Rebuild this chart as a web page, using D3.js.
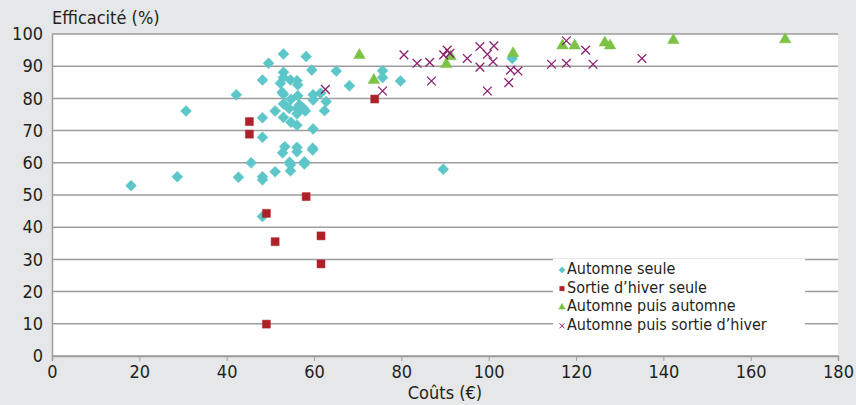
<!DOCTYPE html>
<meta charset="utf-8">
<script src="https://d3js.org/d3.v7.min.js"></script>
<style>
  body { margin: 0; background: #e6e7e8; }
  text { font-family: "DejaVu Sans Condensed", "Liberation Sans Narrow", "Open Sans", sans-serif; fill: #231f20; }
</style>
<body>
<div id="chart"></div>
<script>
// series : [coût, efficacité]
var automneSeule = [
  [18.1,52.9],[28.7,55.7],[30.7,76.1],[42.2,81.1],[42.7,55.5],[45.6,60.0],[48.2,55.7],[48.2,54.7],
  [48.2,43.3],[48.2,67.9],[48.2,74.0],[48.2,85.7],[49.6,90.9],[51.1,57.2],[51.1,76.1],[52.3,84.7],
  [52.8,63.1],[53.0,93.8],[53.0,88.1],[53.0,86.5],[52.7,81.9],[53.0,81.3],[53.0,78.3],[53.0,74.1],
  [53.3,65.0],[54.4,60.2],[54.6,59.4],[54.6,57.5],[54.6,85.7],[54.7,79.7],[54.3,76.9],[54.7,72.6],
  [56.1,85.5],[56.3,84.2],[56.3,80.8],[56.7,78.0],[56.1,76.9],[56.1,75.2],[56.1,71.7],[56.1,64.8],
  [56.1,63.4],[57.6,76.9],[58.0,76.1],[57.8,60.3],[57.8,59.6],[58.2,93.0],[59.5,88.8],[59.8,81.1],
  [59.8,79.5],[59.8,70.5],[59.7,64.5],[59.7,64.0],[61.5,81.6],[62.8,79.0],[62.4,76.2],[65.1,88.5],
  [68.1,83.9],[75.7,88.6],[75.7,86.5],[79.8,85.4],[89.6,58.0],[105.4,92.4]
];
var sortieHiver = [
  [45.2,72.8],[45.2,68.9],[49.1,44.3],[51.1,35.5],[58.2,49.5],[61.6,37.3],[61.6,28.6],[49.1,9.9],[73.9,79.8]
];
var automneAutomne = [
  [70.4,93.4],[73.7,85.7],[90.3,90.6],[91.3,93.0],[105.6,94.0],[116.9,96.4],[119.7,96.4],
  [126.6,97.3],[127.8,96.4],[142.3,98.1],[167.9,98.3]
];
var automneSortie = [
  [62.6,82.8],[75.7,82.3],[80.6,93.5],[83.6,90.9],[86.5,91.2],[86.9,85.4],[89.7,93.5],[90.5,95.0],
  [91.1,94.0],[95.1,92.4],[98.0,96.1],[99.7,93.7],[101.2,96.3],[101.0,91.4],[98.0,89.7],[99.7,82.3],
  [104.6,84.9],[105.0,88.8],[106.7,88.5],[114.4,90.6],[117.8,97.9],[117.8,90.9],[122.2,95.0],
  [123.9,90.6],[135.1,92.4]
];
var xTicks = [0,20,40,60,80,100,120,140,160,180];
var yTicks = [0,10,20,30,40,50,60,70,80,90,100];

var series = [
  {nom: "Automne seule", data: automneSeule, forme: "diamond", couleur: "#5cc6c9"},
  {nom: "Sortie d\u2019hiver seule", data: sortieHiver, forme: "square", couleur: "#ad2228"},
  {nom: "Automne puis automne", data: automneAutomne, forme: "triangle", couleur: "#7cc245"},
  {nom: "Automne puis sortie d\u2019hiver", data: automneSortie, forme: "cross", couleur: "#8c1f70"}
];

var width = 856, height = 405;
var margin = {top: 34, right: 18, bottom: 49, left: 52};
var w = width - margin.left - margin.right;
var h = height - margin.top - margin.bottom;

var svg = d3.select("#chart").append("svg")
  .attr("width", width).attr("height", height)
  .style("background", "#e6e7e8");

var g = svg.append("g").attr("transform", "translate(" + margin.left + "," + margin.top + ")");

var x = d3.scaleLinear().domain([0, 180]).range([0, w]);
var y = d3.scaleLinear().domain([0, 100]).range([h, 0]);

// zone du graphique
g.append("rect").attr("width", w).attr("height", h).attr("fill", "#fff");

// quadrillage
g.append("g").selectAll("line").data(yTicks).enter().append("line")
  .attr("x1", 0).attr("x2", w)
  .attr("y1", function(d) { return y(d); }).attr("y2", function(d) { return y(d); })
  .attr("stroke", "#9d9d9d").attr("stroke-width", 1.5);

// axe Y
var yAxis = g.append("g").call(d3.axisLeft(y).tickValues(yTicks).tickSize(0).tickPadding(9));
yAxis.select(".domain").attr("stroke", "#9d9d9d").attr("stroke-width", 1.5);
yAxis.selectAll("text").style("font-size", "18px");

// axe X
var xAxis = g.append("g").attr("transform", "translate(0," + h + ")")
  .call(d3.axisBottom(x).tickValues(xTicks).tickSize(5).tickSizeOuter(5).tickPadding(4));
xAxis.select(".domain").attr("stroke", "#9d9d9d").attr("stroke-width", 1.5);
xAxis.selectAll("line").attr("stroke", "#9d9d9d");
xAxis.selectAll("text").style("font-size", "18px");

// symboles
function symbole(forme, taille) {
  if (forme == "diamond") return d3.symbol().type(d3.symbolDiamond2).size(taille * 1.2)();
  if (forme == "square") return d3.symbol().type(d3.symbolSquare).size(taille)();
  if (forme == "triangle") return d3.symbol().type(d3.symbolTriangle).size(taille * 0.9)();
  return d3.symbol().type(d3.symbolTimes).size(taille * 0.8)();
}

series.forEach(function(s) {
  g.append("g").selectAll("path").data(s.data).enter().append("path")
    .attr("transform", function(d) { return "translate(" + x(d[0]) + "," + y(d[1]) + ")"; })
    .attr("d", symbole(s.forme, 64))
    .attr("fill", s.forme == "cross" ? "none" : s.couleur)
    .attr("stroke", s.couleur)
    .attr("stroke-width", s.forme == "cross" ? 1.3 : 0.5);
});

// légende
var leg = svg.append("g").attr("transform", "translate(553,259)");
leg.append("rect").attr("width", 252).attr("height", 76).attr("fill", "#fff");
series.forEach(function(s, i) {
  var ly = 9 + i * 18.6;
  leg.append("path")
    .attr("transform", "translate(9," + (ly + 2) + ")")
    .attr("d", symbole(s.forme, 22))
    .attr("fill", s.forme == "cross" ? "none" : s.couleur)
    .attr("stroke", s.couleur)
    .attr("stroke-width", s.forme == "cross" ? 1 : 0.3);
  leg.append("text").attr("x", 14).attr("y", ly + 6)
    .style("font-size", "16px").text(s.nom);
});

// titres
svg.append("text").attr("x", 52).attr("y", 24).style("font-size", "18px").text("Efficacit\u00e9 (%)");
svg.append("text").attr("x", margin.left + w / 2).attr("y", 399)
  .attr("text-anchor", "middle").style("font-size", "18px").text("Co\u00fbts (\u20ac)");
</script>
</body>
